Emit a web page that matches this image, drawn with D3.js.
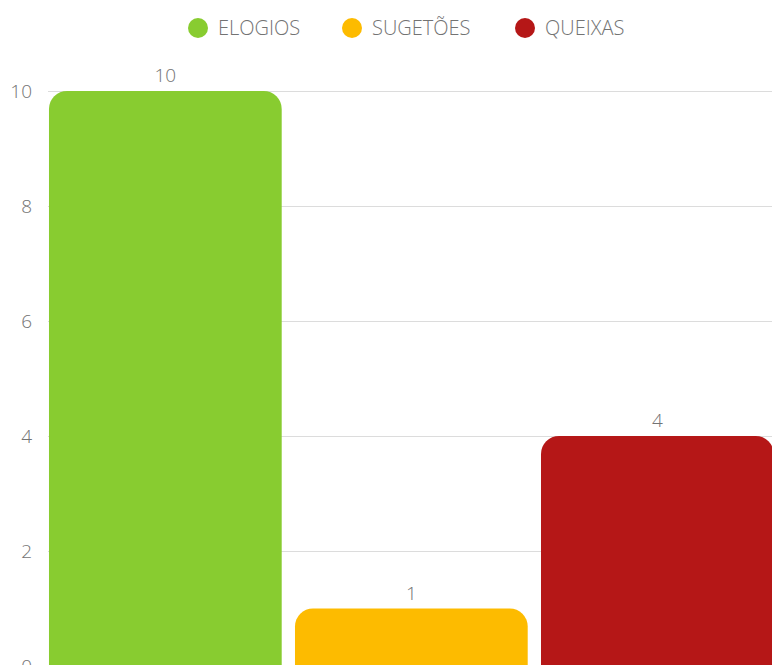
<!DOCTYPE html>
<html>
<head>
<meta charset="utf-8">
<script src="https://cdn.jsdelivr.net/npm/d3@7"></script>
<style>
  body { margin: 0; background: #fff; overflow: hidden; }
  text { font-family: "Open Sans", sans-serif; font-weight: 300; fill: #737373; }
</style>
</head>
<body>
<div id="chart"></div>
<script>
var categories = ["ELOGIOS", "SUGETÕES", "QUEIXAS"];
var values = [10, 1, 4];
var colors = ["#88cc30", "#fdbb00", "#b51717"];
var yTicks = [0, 2, 4, 6, 8, 10];

var width = 772, height = 665;

var svg = d3.select("#chart")
    .append("svg")
    .attr("width", width)
    .attr("height", height);

var x = d3.scaleBand()
    .domain(categories)
    .range([48, 774.7])
    .paddingInner(0.054)
    .paddingOuter(0.004);

var y = d3.scaleLinear()
    .domain([0, 10])
    .range([666, 91]);

// gridlines
svg.selectAll("line.grid")
    .data(yTicks)
    .enter()
    .append("line")
    .attr("class", "grid")
    .attr("x1", 48)
    .attr("x2", 776)
    .attr("y1", function (d) { return y(d) + 0.5; })
    .attr("y2", function (d) { return y(d) + 0.5; })
    .attr("stroke", "#dcdcdc")
    .attr("stroke-width", 1);

// y labels
svg.selectAll("text.ytick")
    .data(yTicks)
    .enter()
    .append("text")
    .attr("class", "ytick")
    .attr("x", 32)
    .attr("y", function (d) { return y(d); })
    .attr("dy", "0.35em")
    .attr("text-anchor", "end")
    .style("font-size", "19px")
    .text(function (d) { return d; });

// bars with rounded top corners
function topRounded(x0, y0, w, h, r) {
    r = Math.min(r, h, w / 2);
    return "M" + x0 + "," + (y0 + h) +
        "V" + (y0 + r) +
        "A" + r + "," + r + " 0 0 1 " + (x0 + r) + "," + y0 +
        "H" + (x0 + w - r) +
        "A" + r + "," + r + " 0 0 1 " + (x0 + w) + "," + (y0 + r) +
        "V" + (y0 + h) + "Z";
}

svg.selectAll("path.bar")
    .data(values)
    .enter()
    .append("path")
    .attr("class", "bar")
    .attr("d", function (d, i) {
        return topRounded(x(categories[i]), y(d), x.bandwidth(), y(0) - y(d), 18);
    })
    .attr("fill", function (d, i) { return colors[i]; });

// value labels
svg.selectAll("text.val")
    .data(values)
    .enter()
    .append("text")
    .attr("class", "val")
    .attr("x", function (d, i) { return x(categories[i]) + x.bandwidth() / 2; })
    .attr("y", function (d) { return y(d) - 9; })
    .attr("text-anchor", "middle")
    .style("font-size", "19px")
    .text(function (d) { return d; });

// legend
var legendX = [198, 352, 525];
var legend = svg.selectAll("g.legend")
    .data(categories)
    .enter()
    .append("g")
    .attr("class", "legend")
    .attr("transform", function (d, i) { return "translate(" + legendX[i] + ",28)"; });

legend.append("circle")
    .attr("r", 10)
    .attr("fill", function (d, i) { return colors[i]; });

legend.append("text")
    .attr("x", 20)
    .attr("dy", "0.35em")
    .style("font-size", "20px")
    .text(function (d) { return d; });
</script>
</body>
</html>
